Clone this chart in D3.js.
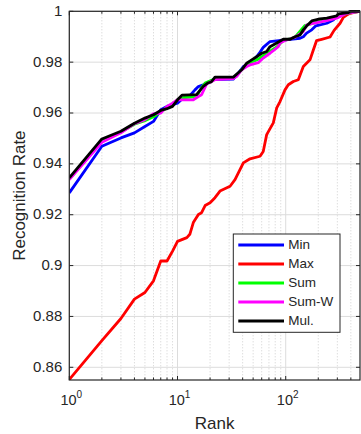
<!DOCTYPE html>
<html>
<head>
<meta charset="utf-8">
<script src="https://cdn.jsdelivr.net/npm/d3@7"></script>
<style>
  body { margin: 0; background: #fff; }
  text { font-family: "Liberation Sans", Arial, sans-serif; fill: #262626; }
</style>
</head>
<body>
<div id="chart"></div>
<script>

// curves, [rank, recognition rate]
let minCurve = [[1,.9286],[2,.9469],[3,.9502],[4,.9522],[5,.9547],[6,.9567],[7,.9613],[8,.9626],[9,.9633],[10,.9639],
    [11.3,.9659],[13,.9668],[14.5,.9691],[15.6,.9704],[17.3,.9711],[21.4,.9731],[32.8,.9733],[36.5,.9757],[40.6,.9783],
    [46.8,.9796],[54,.9822],[58,.9840],[62,.9858],[71.6,.9881],[95,.9887],[135.6,.9894],[145.5,.9900],[156,.9914],
    [174,.9927],[190,.9943],[240,.9953],[275,.9966],[296,.9980],[318,.9985],[341,.9992],[393,.9998],[453,1],[486,1]];

let maxCurve = [[1,.8552],[2,.8705],[3,.8792],[4,.8868],[5,.8894],[6,.8940],[7,.9018],[8,.9018],[9,.9057],[10,.9095],
    [12.2,.9110],[13,.9123],[14,.9169],[15.6,.9201],[16.7,.9208],[18,.9236],[20,.9247],[22.2,.9267],[24.7,.9293],
    [30.6,.9312],[34,.9338],[40.6,.9404],[46.8,.9420],[57.9,.9430],[62,.9449],[66.7,.9515],[76.8,.9561],[82.6,.9620],
    [88.6,.9645],[98.5,.9691],[105.7,.9711],[117.6,.9724],[130.8,.9731],[145.5,.9783],[167.7,.9809],[180,.9848],
    [193,.9885],[215,.9890],[257,.9899],[280,.9925],[318,.9953],[341,.9976],[366,.9985],[393,.9992],[453,.9998],[486,1]];

let sumCurve = [[1,.9340],[2,.9490],[3,.9525],[4,.9556],[5,.9570],[6,.9585],[7,.9605],[8,.9620],[9,.9636],[10,.9652],
    [11.3,.9660],[15,.9665],[16.7,.9700],[18,.9718],[22.2,.9735],[32.8,.9738],[36.5,.9755],[39.2,.9772],[46.8,.9798],
    [55.8,.9812],[62,.9826],[71.6,.9843],[82.6,.9860],[95,.9885],[122,.9898],[150,.9944],[180,.9953],[239,.9965],
    [296,.9976],[366,.9992],[453,.9998],[486,1]];

let sumWCurve = [[1,.9338],[2,.9485],[3,.9522],[4,.9558],[5,.9574],[6,.9597],[7,.9600],[8,.9626],[9,.9639],[10,.9652],
    [11.3,.9652],[14,.9652],[15.6,.9665],[16.7,.9672],[18.6,.9714],[22.2,.9731],[32.8,.9735],[35.3,.9744],[39.2,.9770],
    [43.6,.9783],[46.8,.9789],[55.8,.9798],[62,.9816],[71.6,.9835],[76.8,.9845],[85.4,.9861],[88.6,.9875],[98.5,.9885],
    [122,.9898],[145.5,.9920],[156,.9946],[180,.9953],[239,.9963],[296,.9973],[366,.9992],[453,.9998],[486,1]];

let mulCurve = [[1,.9345],[2,.9498],[3,.9528],[4,.9560],[5,.9580],[6,.9593],[7,.9610],[8,.9617],[9,.9626],[10,.9652],
    [11,.9670],[15,.9672],[17.3,.9705],[19,.9718],[20.5,.9722],[22.2,.9741],[32.8,.9741],[39.2,.9770],[43.6,.9796],
    [54,.9822],[60,.9835],[66.7,.9842],[71.6,.9861],[82.6,.9875],[95,.9890],[110,.9890],[122,.9900],[135.6,.9907],
    [145.5,.9927],[156,.9942],[174,.9962],[207,.9970],[240,.9973],[296,.9982],[306,.9990],[380,.9995],[393,1],[486,1]];

let seriesNames = ["Min", "Max", "Sum", "Sum-W", "Mul."];
let seriesColors = ["#0000ff", "#ff0000", "#00ff00", "#ff00ff", "#000000"];
let seriesData = [minCurve, maxCurve, sumCurve, sumWCurve, mulCurve];

let rankDomain = [1, 486];
let rateDomain = [0.855, 1];
let rateTicks = d3.range(0.86, 1.001, 0.02).map(v => +v.toFixed(2));

// layout
let width = 361, height = 434;
let plot = {left: 69.3, right: 360, top: 11.3, bottom: 380};

let svg = d3.select("#chart").append("svg")
    .attr("width", width)
    .attr("height", height);

let x = d3.scaleLog().domain(rankDomain).range([plot.left, plot.right]);
let y = d3.scaleLinear().domain(rateDomain).range([plot.bottom, plot.top]);

let xTicks = x.ticks();
let isMajor = d => Math.abs(Math.log10(d) - Math.round(Math.log10(d))) < 1e-9;

// grid
let grid = svg.append("g");
grid.selectAll(".minor").data(xTicks.filter(d => !isMajor(d)))
    .enter().append("line")
    .attr("x1", d => x(d)).attr("x2", d => x(d))
    .attr("y1", plot.top).attr("y2", plot.bottom)
    .attr("stroke", "#cfcfcf")
    .attr("stroke-width", 1)
    .attr("stroke-dasharray", "1,2");
grid.selectAll(".major").data(xTicks.filter(isMajor))
    .enter().append("line")
    .attr("x1", d => x(d)).attr("x2", d => x(d))
    .attr("y1", plot.top).attr("y2", plot.bottom)
    .attr("stroke", "#dcdcdc");
grid.selectAll(".ygrid").data(rateTicks)
    .enter().append("line")
    .attr("x1", plot.left).attr("x2", plot.right)
    .attr("y1", d => y(d)).attr("y2", d => y(d))
    .attr("stroke", "#dcdcdc");

// curves
svg.append("clipPath").attr("id", "clip")
    .append("rect")
    .attr("x", plot.left).attr("y", plot.top - 2)
    .attr("width", plot.right - plot.left).attr("height", plot.bottom - plot.top + 2);

let line = d3.line().x(d => x(d[0])).y(d => y(d[1]));

svg.append("g").attr("clip-path", "url(#clip)")
    .selectAll("path").data(seriesData)
    .enter().append("path")
    .attr("d", line)
    .attr("fill", "none")
    .attr("stroke", (d, i) => seriesColors[i])
    .attr("stroke-width", 2.8)
    .attr("stroke-linejoin", "round");

// axes box + inward ticks
let axes = svg.append("g").attr("stroke", "#262626");
axes.append("rect")
    .attr("x", plot.left).attr("y", plot.top)
    .attr("width", plot.right - plot.left).attr("height", plot.bottom - plot.top)
    .attr("fill", "none")
    .attr("stroke-width", 1.2);

xTicks.forEach(d => {
    let len = isMajor(d) ? 4 : 2.5;
    axes.append("line").attr("x1", x(d)).attr("x2", x(d))
        .attr("y1", plot.bottom).attr("y2", plot.bottom - len);
    axes.append("line").attr("x1", x(d)).attr("x2", x(d))
        .attr("y1", plot.top).attr("y2", plot.top + len);
});
rateTicks.forEach(d => {
    axes.append("line").attr("x1", plot.left).attr("x2", plot.left + 4)
        .attr("y1", y(d)).attr("y2", y(d));
    axes.append("line").attr("x1", plot.right).attr("x2", plot.right - 4)
        .attr("y1", y(d)).attr("y2", y(d));
});

// tick labels
svg.append("g").selectAll("text").data(rateTicks)
    .enter().append("text")
    .attr("x", plot.left - 7)
    .attr("y", d => y(d) + 0.5)
    .attr("text-anchor", "end")
    .attr("dominant-baseline", "middle")
    .attr("font-size", 15)
    .text(d => String(d));

let xLabels = svg.append("g").selectAll("text").data(xTicks.filter(isMajor))
    .enter().append("text")
    .attr("x", d => x(d) + 2)
    .attr("y", 405)
    .attr("text-anchor", "middle")
    .attr("font-size", 14.5);
xLabels.append("tspan").text("10");
xLabels.append("tspan")
    .attr("dy", -7)
    .attr("font-size", 10)
    .text(d => Math.round(Math.log10(d)));

// axis titles
svg.append("text")
    .attr("x", (plot.left + plot.right) / 2)
    .attr("y", 429)
    .attr("text-anchor", "middle")
    .attr("font-size", 17)
    .text("Rank");

svg.append("text")
    .attr("transform", "translate(25," + ((plot.top + plot.bottom) / 2) + ") rotate(-90)")
    .attr("text-anchor", "middle")
    .attr("font-size", 17)
    .text("Recognition Rate");

// legend
let legend = svg.append("g").attr("transform", "translate(233.3,234)");
legend.append("rect")
    .attr("width", 106.7).attr("height", 98.3)
    .attr("fill", "#fff")
    .attr("stroke", "#262626")
    .attr("stroke-width", 1);

let items = legend.selectAll(".item").data(seriesNames)
    .enter().append("g")
    .attr("transform", (d, i) => "translate(0," + (11 + i * 19) + ")");
items.append("line")
    .attr("x1", 5).attr("x2", 50.7)
    .attr("stroke", (d, i) => seriesColors[i])
    .attr("stroke-width", 2.8);
items.append("text")
    .attr("x", 55)
    .attr("dominant-baseline", "middle")
    .attr("font-size", 13.5)
    .text(d => d);

</script>
</body>
</html>
